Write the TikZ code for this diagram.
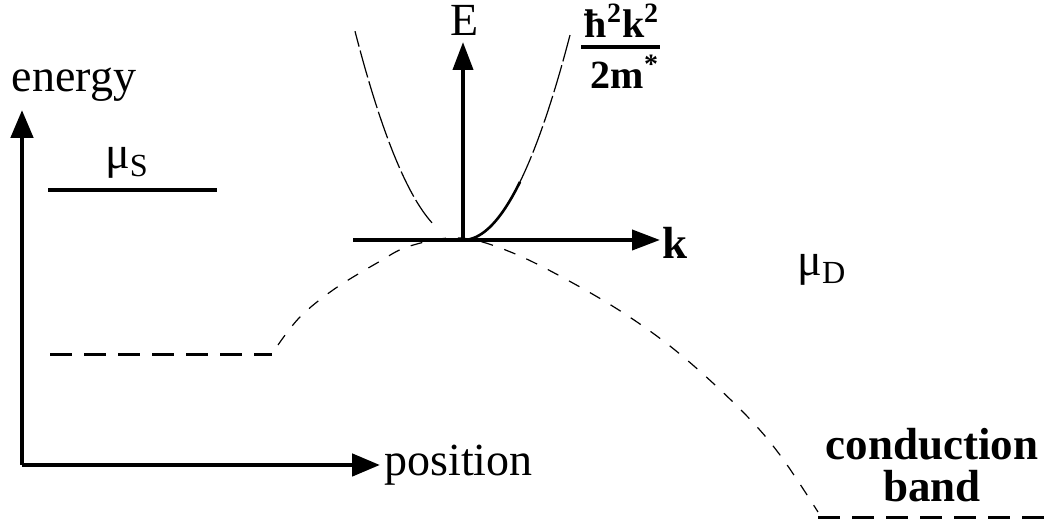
\documentclass[tikz,border=0pt]{standalone}
\usepackage{fontspec}
\setmainfont{Liberation Serif}
\usetikzlibrary{arrows.meta}
\begin{document}
\begin{tikzpicture}[x=0.5pt,y=-0.5pt,
  axis/.style={line width=2.4pt,-{Triangle[length=14pt,width=11pt]}},
  kaxis/.style={line width=2pt,-{Triangle[length=14pt,width=10pt]}},
  lvl/.style={line width=1.6pt},
  thickdash/.style={line width=1.5pt,dash pattern=on 11pt off 6pt},
  thindash/.style={line width=0.6pt,dash pattern=on 6pt off 6pt},
  lbl/.style={inner sep=0pt,font=\fontsize{23}{26}\selectfont},
  blbl/.style={inner sep=0pt,font=\fontsize{22.5}{26}\selectfont\bfseries}]
\useasboundingbox (0,0) rectangle (1046,522);
% main axes
\coordinate (O) at (22,465);
\coordinate (Etip) at (22,110);
\coordinate (Ptip) at (380,465);
\draw[axis] (O) -- (Etip);
\draw[axis] (O) -- (Ptip);
\node[lbl,anchor=base west] (pos) at (384,476) {position};
\node[lbl] (energy) at (74,85) {energy};
% mu_S level
\coordinate (s1) at (48,190);
\coordinate (s2) at (217,190);
\draw[lvl] (s1) -- (s2);
\node[lbl] (muS) at (127,163) {μ\textsubscript{S}};
\node[lbl] (muD) at (822,270) {μ\textsubscript{D}};
% band profile
\coordinate (b1) at (50,355);
\coordinate (b2) at (272,355);
\draw[thickdash] (b1) -- (b2);
\draw[thindash] plot[smooth,tension=0.6] coordinates {(278,345) (300,317) (333,290) (377,263) (410,246) (460,238) (513,253) (580,287) (637,322) (687,360) (743,412) (780,455) (818,512)};
\coordinate (c1) at (818,518);
\coordinate (c2) at (1046,518);
\draw[thickdash] (c1) -- (c2);
\node[blbl,anchor=base] (cond) at (932,460) {conduction};
\node[blbl,anchor=base] (band) at (932,502) {band};
% E-k diagram
\coordinate (Kc) at (463,240);
\coordinate (Kl) at (353,240);
\coordinate (Kr) at (660,240);
\coordinate (Et) at (463,42);
\draw[kaxis] (Kl) -- (Kr);
\draw[kaxis] (Kc) -- (Et);
\node[blbl,anchor=west] (k) at (662,243) {k};
\node[lbl] (E) at (465,20) {E};
\draw[line width=1.3pt,domain=0:57,samples=40] plot ({463+\x},{240-0.0179*\x*\x});
\draw[line width=0.6pt,dash pattern=on 14pt off 2pt,domain=57:107,samples=40] plot ({463+\x},{240-0.0179*\x*\x});
\draw[line width=0.6pt,dash pattern=on 14pt off 2pt,domain=-31:-108,samples=50] plot ({463+\x},{240-0.0179*\x*\x});
% fraction
\node[inner sep=0pt,font=\fontsize{20}{24}\selectfont\bfseries] (num) at (622,21) {ħ\textsuperscript{2}k\textsuperscript{2}};
\node[inner sep=0pt,font=\fontsize{20}{24}\selectfont\bfseries] (den) at (625,72) {2m\textsuperscript{*}};
\draw[line width=2pt] (num.south west |- 0,47) ++(-3,0) coordinate (f1) -- (num.south east |- 0,47) coordinate (f2);
\end{tikzpicture}
\end{document}
